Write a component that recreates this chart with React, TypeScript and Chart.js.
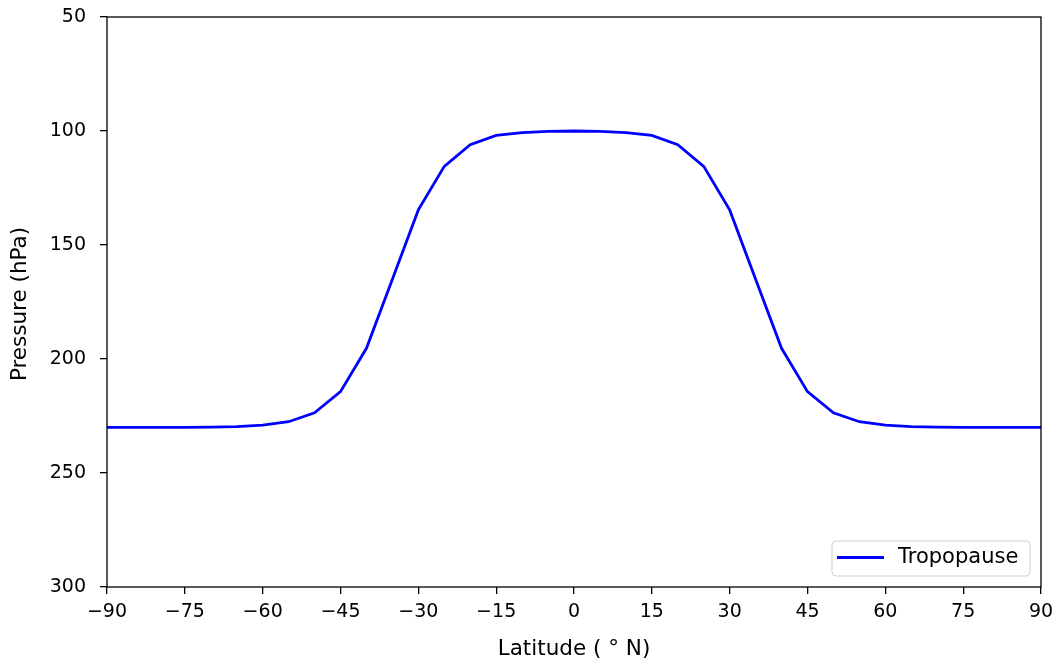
import React, { useEffect, useRef } from "react";
import { Chart, registerables } from "chart.js";

Chart.register(...registerables);

const latitudes = [
  -90, -85, -80, -75, -70, -65, -60, -55, -50, -45, -40, -35, -30, -25, -20, -15, -10, -5,
  0, 5, 10, 15, 20, 25, 30, 35, 40, 45, 50, 55, 60, 65, 70, 75, 80, 85, 90,
];
const tropopause = [
  230, 230, 230, 230, 229.9, 229.7, 229.0, 227.5, 223.6, 214.3, 195.3, 165, 134.6, 115.5, 106, 101.9, 100.7, 100.2,
  100, 100.2, 100.7, 101.9, 106, 115.5, 134.6, 165, 195.3, 214.3, 223.6, 227.5, 229.0, 229.7, 229.9, 230, 230, 230, 230,
];
const seriesLabel = "Tropopause";
const xTitle = "Latitude ( ° N)";
const yTitle = "Pressure (hPa)";
const xMin = -90, xMax = 90, xStep = 15;
const yMin = 50, yMax = 300, yStep = 50;

const FONT = "'DejaVu Sans', sans-serif";
const FS = 19;
const FS_LABEL = 21.5;
const FS_LEGEND = 21;

const framePlugin = {
  id: "frame",
  afterDraw(chart: any) {
    const { ctx, chartArea: a } = chart;
    ctx.save();
    ctx.strokeStyle = "#000";
    ctx.lineWidth = 1.3;
    ctx.strokeRect(a.left, a.top, a.right - a.left, a.bottom - a.top);

    // axis titles
    ctx.fillStyle = "#000";
    ctx.font = `${FS_LABEL}px ${FONT}`;
    ctx.textAlign = "center";
    ctx.textBaseline = "middle";
    ctx.fillText(xTitle, (a.left + a.right) / 2, 649);
    ctx.translate(20, (a.top + a.bottom) / 2 + 2);
    ctx.rotate(-Math.PI / 2);
    ctx.fillText(yTitle, 0, 0);
    ctx.restore();

    // legend
    ctx.save();
    const bx = 832, by = 541, bw = 198, bh = 35, r = 4;
    ctx.beginPath();
    ctx.moveTo(bx + r, by);
    ctx.arcTo(bx + bw, by, bx + bw, by + bh, r);
    ctx.arcTo(bx + bw, by + bh, bx, by + bh, r);
    ctx.arcTo(bx, by + bh, bx, by, r);
    ctx.arcTo(bx, by, bx + bw, by, r);
    ctx.closePath();
    ctx.fillStyle = "rgba(255,255,255,0.8)";
    ctx.fill();
    ctx.strokeStyle = "#d0d0d0";
    ctx.lineWidth = 1;
    ctx.stroke();
    const ly = by + bh / 2 - 1;
    ctx.beginPath();
    ctx.moveTo(837, ly);
    ctx.lineTo(884, ly);
    ctx.strokeStyle = "#0000ff";
    ctx.lineWidth = 2.8;
    ctx.stroke();
    ctx.fillStyle = "#000";
    ctx.font = `${FS_LEGEND}px ${FONT}`;
    ctx.textAlign = "left";
    ctx.textBaseline = "middle";
    ctx.fillText(seriesLabel, 898, ly);
    ctx.restore();
  },
};

const zeroPad = (s: any) => {
  s.paddingTop = 0;
  s.paddingBottom = 0;
  s.paddingLeft = 0;
  s.paddingRight = 0;
};

export default function App() {
  const ref = useRef<HTMLCanvasElement>(null);
  useEffect(() => {
    const canvas = ref.current!;
    const chart = new Chart(canvas, {
      type: "line",
      data: {
        datasets: [
          {
            label: seriesLabel,
            data: latitudes.map((x, i) => ({ x, y: tropopause[i] })),
            borderColor: "#0000ff",
            borderWidth: 2.8,
            pointRadius: 0,
            tension: 0,
            fill: false,
          },
        ],
      },
      options: {
        animation: false,
        responsive: false,
        maintainAspectRatio: false,
        layout: { padding: { left: 0, top: 17, right: 16, bottom: 0 } },
        plugins: { legend: { display: false }, tooltip: { enabled: false } },
        scales: {
          x: {
            type: "linear",
            min: xMin,
            max: xMax,
            border: { display: false },
            grid: { drawOnChartArea: false, drawTicks: true, tickLength: 7, color: "#000", lineWidth: 1.3 },
            ticks: {
              stepSize: xStep,
              color: "#000",
              font: { family: FONT, size: FS },
              padding: 7,
              maxRotation: 0,
              autoSkip: false,
              callback: (v: any) => (v < 0 ? "\u2212" + Math.abs(v) : String(v)),
            },
            afterFit: (s: any) => { s.height = 75; zeroPad(s); },
          },
          y: {
            type: "linear",
            reverse: true,
            min: yMin,
            max: yMax,
            border: { display: false },
            grid: { drawOnChartArea: false, drawTicks: true, tickLength: 7, color: "#000", lineWidth: 1.3 },
            ticks: {
              stepSize: yStep,
              color: "#000",
              font: { family: FONT, size: FS },
              padding: 14,
              autoSkip: false,
            },
            afterFit: (s: any) => { s.width = 107; zeroPad(s); },
          },
        },
      },
      plugins: [framePlugin],
    });
    return () => chart.destroy();
  }, []);
  return (
    <div style={{ position: "absolute", left: 0, top: 0, width: 1057, height: 662 }}>
      <canvas ref={ref} width={1057} height={662} style={{ display: "block", width: 1057, height: 662 }} />
    </div>
  );
}
